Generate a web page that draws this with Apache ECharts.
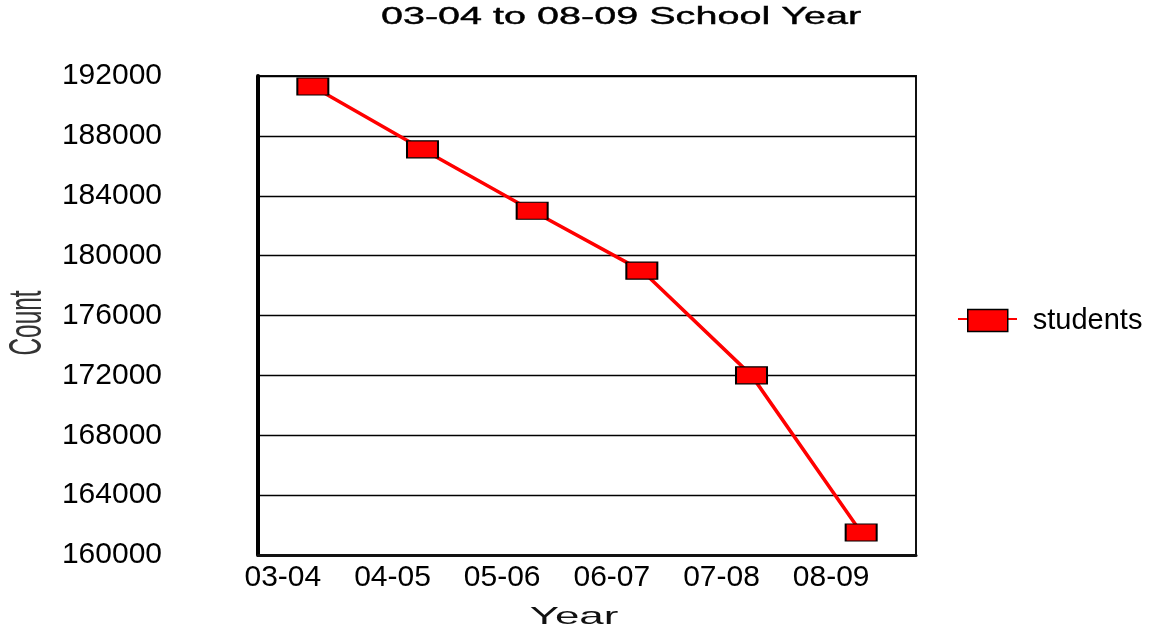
<!DOCTYPE html>
<html>
<head>
<meta charset="utf-8">
<script src="https://cdn.jsdelivr.net/npm/echarts@6/dist/echarts.min.js"></script>
<style>html,body{margin:0;padding:0;background:#fff;}#c{width:1158px;height:630px;}</style>
</head>
<body>
<div id="c"></div>
<script>
const categories = ['03-04', '04-05', '05-06', '06-07', '07-08', '08-09'];
const students = [191300, 187100, 183000, 179000, 172000, 161500];
const yMin = 160000, yMax = 192000, yStep = 4000;
const titleText = '03-04 to 08-09 School Year';
const xName = 'Year', yName = 'Count', seriesName = 'students';

const FONT = '"Liberation Sans", Arial, sans-serif';
const chart = echarts.init(document.getElementById('c'), null, {renderer: 'canvas'});
chart.setOption({
  animation: false,
  backgroundColor: '#fff',
  grid: {left: 258, right: 242, top: 76, bottom: 75, show: true, borderColor: '#111', borderWidth: 2, containLabel: false},
  xAxis: {
    type: 'category', data: categories, boundaryGap: true,
    axisLine: {show: true, lineStyle: {color: '#111', width: 3}},
    axisTick: {show: false},
    axisLabel: {fontSize: 30, fontFamily: FONT, color: '#000', margin: 8, padding: [0, 60, 0, 0]},
    splitLine: {show: false}
  },
  yAxis: {
    type: 'value', min: yMin, max: yMax, interval: yStep,
    axisLine: {show: true, lineStyle: {color: '#000', width: 4}},
    axisTick: {show: false},
    axisLabel: {fontSize: 30, fontFamily: FONT, color: '#000', margin: 96, align: 'right', formatter: function (v) { return String(v); }},
    splitLine: {show: true, lineStyle: {color: '#000', width: 1.3}}
  },
  legend: {
    data: [seriesName], left: 962, top: 301, orient: 'vertical', padding: 5,
    icon: 'rect', itemWidth: 40, itemHeight: 22,
    itemStyle: {color: '#ff0000', borderColor: '#000', borderWidth: 1.5},
    textStyle: {fontSize: 29, fontFamily: FONT, color: '#000', padding: [0, 0, 0, 20]}
  },
  series: [{
    name: seriesName, type: 'line', data: students,
    symbol: 'rect', symbolSize: [31, 17],
    lineStyle: {color: '#ff0000', width: 3.5},
    itemStyle: {color: '#ff0000', borderColor: '#000', borderWidth: 1.5},
    z: 3
  }],
  graphic: [
    {type: 'text', x: 621, y: 18, scaleX: 1.72, style: {text: titleText, fontSize: 23, fontFamily: FONT, fill: '#000', stroke: '#000', lineWidth: 0.4, align: 'center', verticalAlign: 'middle', textAlign: 'center', textVerticalAlign: 'middle'}},
    {type: 'text', x: 574, y: 617, scaleX: 1.83, style: {text: xName, fontSize: 24, fontFamily: FONT, fill: '#111', align: 'center', verticalAlign: 'middle', textAlign: 'center', textVerticalAlign: 'middle'}},
    {type: 'text', x: 28, y: 323, rotation: Math.PI / 2, scaleX: 0.52, style: {text: yName, fontSize: 47, fontFamily: FONT, fill: '#333', align: 'center', verticalAlign: 'middle', textAlign: 'center', textVerticalAlign: 'middle'}},
    {type: 'line', z: -1, shape: {x1: 958, y1: 319, x2: 970, y2: 319}, style: {stroke: '#ff0000', lineWidth: 2}},
    {type: 'line', z: -1, shape: {x1: 1005, y1: 319, x2: 1017, y2: 319}, style: {stroke: '#ff0000', lineWidth: 2}}
  ]
});
</script>
</body>
</html>
